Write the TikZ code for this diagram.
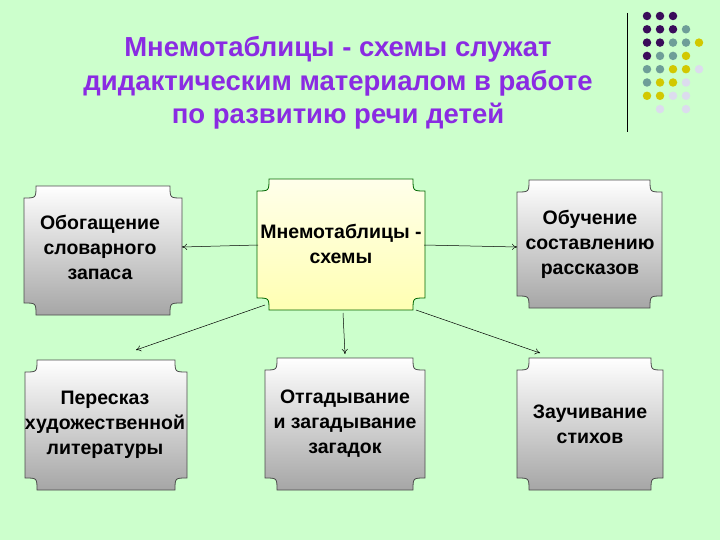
\documentclass[tikz,border=0pt]{standalone}
\usepackage{fontspec}
\setmainfont{Liberation Sans}
\usetikzlibrary{arrows.meta}
\definecolor{slidebg}{HTML}{CCFFCC}
\definecolor{titlepurple}{HTML}{8A2BE2}
\definecolor{dotP}{HTML}{3A0C5A}
\definecolor{dotT}{HTML}{6E9E98}
\definecolor{dotY}{HTML}{D2C800}
\definecolor{dotL}{HTML}{DCDCEE}
\tikzset{
  plaque/.style={minimum width=#1, align=center, font=\bfseries\fontsize{19.5}{25}\selectfont},
  box/.style={draw=black!70, line width=0.8pt, top color=white, bottom color=black!35},
  mainbox/.style={draw=black!60!green, line width=0.8pt, top color=yellow!8, bottom color=yellow!30},
  link/.style={-{To[length=5pt,width=6pt]}, line width=0.5pt},
  dot/.style={circle, inner sep=0pt, minimum size=8.5pt}
}
% plaque outline with concave corners
\newcommand{\plaqueshape}[5]{% style, x1, y1, x2, y2
  \path[#1] (#2+12,#3) -- (#4-12,#3) .. controls (#4-12,#3+12) .. (#4,#3+12)
    -- (#4,#5-12) .. controls (#4-12,#5-12) .. (#4-12,#5)
    -- (#2+12,#5) .. controls (#2+12,#5-12) .. (#2,#5-12)
    -- (#2,#3+12) .. controls (#2+12,#3+12) .. cycle;}
\begin{document}
\begin{tikzpicture}[x=1pt,y=-1pt]
  \fill[slidebg] (0,0) rectangle (720,540);
  \useasboundingbox (0,0) rectangle (720,540);

  %% Title
  \node[font=\bfseries\fontsize{27.5}{33.5}\selectfont, text=titlepurple, align=center] (title) at (338,83)
    {Мнемотаблицы - схемы служат\\дидактическим материалом в работе\\по развитию речи детей};

  %% Decoration at the top right
  \draw[line width=0.8pt] (627,13) -- (627,132);
  \foreach \k/\r/\c in {0/0/P,1/0/P,2/0/P, 0/1/P,1/1/P,2/1/P,3/1/T,
      0/2/P,1/2/P,2/2/T,3/2/T,4/2/Y, 0/3/P,1/3/T,2/3/T,3/3/Y,
      0/4/T,1/4/T,2/4/Y,3/4/Y,4/4/L, 0/5/T,1/5/Y,2/5/Y,3/5/L,
      0/6/Y,1/6/Y,2/6/L,3/6/L, 1/7/L,3/7/L}
    \node[dot, fill=dot\c] at (647+13*\k,16+13.3*\r) {};

  %% Boxes
  \plaqueshape{mainbox}{257}{179}{425}{310}
  \plaqueshape{box}{24}{186}{182}{315}
  \plaqueshape{box}{517}{180}{662}{308}
  \plaqueshape{box}{25}{360}{187}{490}
  \plaqueshape{box}{265}{358}{425}{490}
  \plaqueshape{box}{517}{358}{663}{490}

  \node[plaque=160pt] (main) at (341,244) {Мнемотаблицы -\\схемы};
  \node[plaque=150pt] (words) at (100,247) {Обогащение\\ словарного\\ запаса};
  \node[plaque=140pt] (story) at (590,244) {Обучение\\составлению\\рассказов};
  \node[plaque=160pt] (retell) at (105,425) {Пересказ\\художественной\\ литературы};
  \node[plaque=150pt] (riddle) at (345,424) {Отгадывание\\и загадывание\\загадок};
  \node[plaque=140pt] (poems) at (590,424) {Заучивание\\стихов};

  %% Arrows
  \coordinate (mL) at (258,245);
  \coordinate (mR) at (424,245);
  \coordinate (mBL) at (265,305);
  \coordinate (mB) at (343,313);
  \coordinate (mBR) at (416,310);
  \draw[link] (mL) -- (182,247);
  \draw[link] (mR) -- (517,247);
  \draw[link] (mBL) -- (136,350);
  \draw[link] (mB) -- (345,354);
  \draw[link] (mBR) -- (540,353);
\end{tikzpicture}
\end{document}
